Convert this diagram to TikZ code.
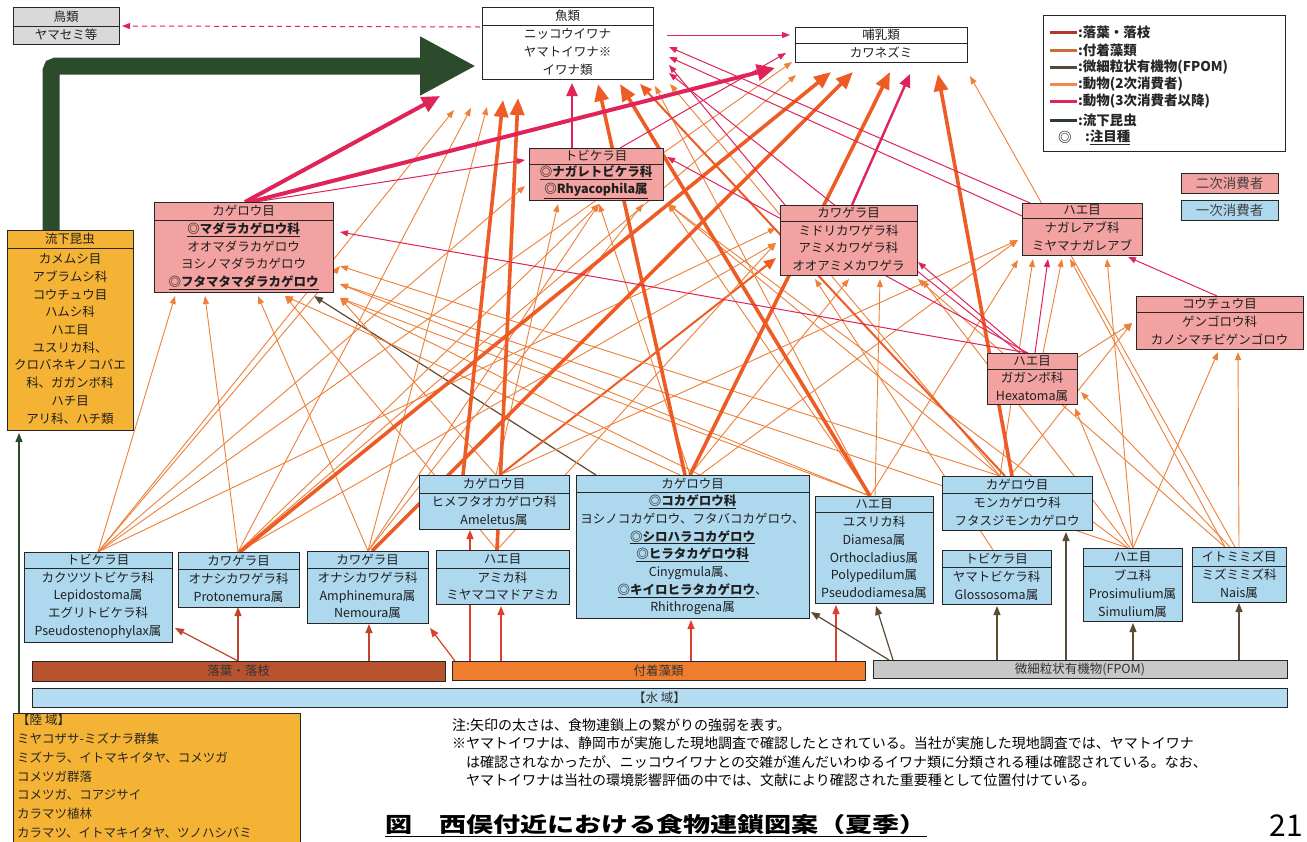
\documentclass[tikz,border=0pt]{standalone}
\usepackage{graphicx}
\usepackage{fontspec}
\setmainfont{Noto Sans CJK JP}
\usetikzlibrary{arrows.meta,calc}
\pgfdeclarelayer{back}
\pgfdeclarelayer{edges}
\pgfsetlayers{back,edges,main}
\definecolor{pinkF}{HTML}{F2A2A0}
\definecolor{blueF}{HTML}{AED8EE}
\definecolor{orgF}{HTML}{F4B334}
\definecolor{greyF}{HTML}{D9D9D9}
\definecolor{leafB}{HTML}{B8532F}
\definecolor{algB}{HTML}{EE7E2E}
\definecolor{fpomB}{HTML}{C8C8C8}
\definecolor{waterB}{HTML}{B5DCF0}
\definecolor{oC}{HTML}{EE8038}
\definecolor{OC}{HTML}{EE5C26}
\definecolor{rC}{HTML}{E0245A}
\definecolor{leafC}{HTML}{C0432E}
\definecolor{algC}{HTML}{DD3F2A}
\definecolor{fpomC}{HTML}{5C4A32}
\definecolor{grnC}{HTML}{2C4A2C}
\definecolor{lgA}{HTML}{B0362E}
\definecolor{lgB}{HTML}{CD6A3A}
\definecolor{lgC}{HTML}{5A4632}
\definecolor{lgD}{HTML}{EE8A50}
\definecolor{lgE}{HTML}{E0245A}
\definecolor{lgF}{HTML}{2E3A2E}
\newcommand\myfs{\fontsize{12.5}{17.7}\selectfont}
\newcommand\uln[1]{\underline{#1}}
\newcommand\mybox[9]{%
  \expandafter\gdef\csname ox#1\endcsname{#2}%
  \expandafter\gdef\csname oy#1\endcsname{#3}%
  \node[box,fill=#7,minimum width=#4pt,minimum height=#5pt] (#1) at (#2,#3) {};
  \draw[line width=0.7pt,draw=black!85] ([yshift=-#6pt]#1.north west) -- ([yshift=-#6pt]#1.north east);
  \node[txt] (#1-h) at ($(#1.north)+(0,#6/2)$) {#8};
  \node[txt] (#1-b) at ($(#1.south)!0.5!([yshift=-#6pt]#1.north)$) {#9};
}
\newcommand\mybar[7]{%
  \expandafter\gdef\csname ox#1\endcsname{#2}%
  \expandafter\gdef\csname oy#1\endcsname{#3}%
  \node[box,fill=#6,minimum width=#4pt,minimum height=#5pt,font=\myfs,text=black!80] (#1) at (#2,#3) {#7};
}
\newcommand\edg[7]{\draw[#1] ([shift={({#3-\csname ox#2\endcsname},{#4-\csname oy#2\endcsname})}]#2.north west) -- ([shift={({#6-\csname ox#5\endcsname},{#7-\csname oy#5\endcsname})}]#5.north west);}
\tikzset{
  box/.style={draw=black!85,line width=0.8pt,outer sep=0pt,inner sep=0pt,anchor=north west},
  txt/.style={inner sep=0pt,align=center,font=\myfs,text=black!88},
  eo/.style={draw=oC,line width=0.9pt,-{Triangle[length=8pt,width=6pt]}},
  eom/.style={draw=OC,line width=2pt,-{Triangle[length=12pt,width=10pt]}},
  eO/.style={draw=OC,line width=3.6pt,-{Triangle[length=17pt,width=14pt]}},
  er/.style={draw=rC,line width=1pt,-{Triangle[length=8pt,width=6pt]}},
  erm/.style={draw=rC,line width=2.4pt,-{Triangle[length=13pt,width=11pt]}},
  eR/.style={draw=rC,line width=4pt,-{Triangle[length=18pt,width=16pt]}},
  eleaf/.style={draw=leafC,line width=1.2pt,-{Triangle[length=9pt,width=7pt]}},
  ealg/.style={draw=algC,line width=1.2pt,-{Triangle[length=9pt,width=7pt]}},
  efpom/.style={draw=fpomC,line width=1.2pt,-{Triangle[length=9pt,width=7pt]}},
  lg/.style={line width=3pt},
  lgt/.style={anchor=west,inner sep=0pt,font=\fontsize{13.5}{14}\selectfont\bfseries,text=black!85},
}
\begin{document}
\begin{tikzpicture}[x=1pt,y=-1pt]
\useasboundingbox (0,0) rectangle (1307,841);
\begin{pgfonlayer}{back}
\fill[white] (0,0) rectangle (1307,841);
\end{pgfonlayer}

% ---------- top level
\mybox{bird}{13}{7}{106}{37}{19}{greyF}{鳥類}{ヤマセミ等}
\mybox{fish}{482}{7}{171}{72}{18}{white}{魚類}{ニッコウイワナ\\ヤマトイワナ※\\イワナ類}
\mybox{mam}{795}{27}{172}{35}{16}{white}{哺乳類}{カワネズミ}

% ---------- secondary consumers
\mybox{kp}{154}{202}{179}{90}{18}{pinkF}{カゲロウ目}{\uln{\textbf{◎マダラカゲロウ科}}\\オオマダラカゲロウ\\ヨシノマダラカゲロウ\\\uln{\textbf{◎フタマタマダラカゲロウ}}}
\mybox{tp}{529}{148}{134}{52}{16}{pinkF}{トビケラ目}{\uln{\textbf{◎ナガレトビケラ科}}\\\uln{\textbf{◎Rhyacophila属}}}
\mybox{wp}{780}{205}{137}{70}{16}{pinkF}{カワゲラ目}{ミドリカワゲラ科\\アミメカワゲラ科\\オオアミメカワゲラ}
\mybox{hp}{1022}{203}{120}{52}{15}{pinkF}{ハエ目}{ナガレアブ科\\ミヤマナガレアブ}
\mybox{cp}{1136}{296}{167}{53}{16}{pinkF}{コウチュウ目}{ゲンゴロウ科\\カノシマチビゲンゴロウ}
\mybox{gp}{987}{353}{90}{51}{16}{pinkF}{ハエ目}{ガガンボ科\\Hexatoma属}

% ---------- drifting insects / land
\mybox{ryu}{7}{230}{126}{200}{18}{orgF}{流下昆虫}{カメムシ目\\アブラムシ科\\コウチュウ目\\ハムシ科\\ハエ目\\ユスリカ科、\\クロバネキノコバエ\\科、ガガンボ科\\ハチ目\\アリ科、ハチ類}
\mybar{riku}{13}{713}{287}{132}{orgF}{}
\node[anchor=north west,inner sep=0pt,align=left,font=\fontsize{12.5}{18.8}\selectfont,text=black!85] (rikut) at (17,714) {【陸 域】\\ミヤコザサ-ミズナラ群集\\ミズナラ、イトマキイタヤ、コメツガ\\コメツガ群落\\コメツガ、コアジサイ\\カラマツ植林\\カラマツ、イトマキイタヤ、ツノハシバミ};

% ---------- primary consumers
\mybox{hime}{419}{475}{150}{54}{18}{blueF}{カゲロウ目}{ヒメフタオカゲロウ科\\Ameletus属}
\mybox{kbig}{576}{475}{233}{143}{17}{blueF}{カゲロウ目}{\uln{\textbf{◎コカゲロウ科}}\\ヨシノコカゲロウ、フタバコカゲロウ、\\\uln{\textbf{◎シロハラコカゲロウ}}\\\uln{\textbf{◎ヒラタカゲロウ科}}\\Cinygmula属、\\\uln{\textbf{◎キイロヒラタカゲロウ}}、\\Rhithrogena属}
\mybox{yus}{815}{496}{118}{107}{16}{blueF}{ハエ目}{ユスリカ科\\Diamesa属\\Orthocladius属\\Polypedilum属\\Pseudodiamesa属}
\mybox{mon}{942}{476}{150}{54}{17}{blueF}{カゲロウ目}{モンカゲロウ科\\フタスジモンカゲロウ}
\mybox{kaku}{24}{552}{148}{90}{16}{blueF}{トビケラ目}{カクツツトビケラ科\\Lepidostoma属\\エグリトビケラ科\\Pseudostenophylax属}
\mybox{prot}{178}{552}{121}{55}{17}{blueF}{カワゲラ目}{オナシカワゲラ科\\Protonemura属}
\mybox{amph}{307}{551}{121}{72}{17}{blueF}{カワゲラ目}{オナシカワゲラ科\\Amphinemura属\\Nemoura属}
\mybox{ami}{436}{550}{133}{54}{18}{blueF}{ハエ目}{アミカ科\\ミヤマコマドアミカ}
\mybox{yama}{942}{550}{109}{54}{17}{blueF}{トビケラ目}{ヤマトビケラ科\\Glossosoma属}
\mybox{buyu}{1083}{548}{99}{73}{18}{blueF}{ハエ目}{ブユ科\\Prosimulium属\\Simulium属}
\mybox{ito}{1192}{547}{94}{55}{19}{blueF}{イトミミズ目}{ミズミミズ科\\Nais属}

% ---------- resources
\mybar{leaf}{32}{661}{413}{20}{leafB}{落葉・落枝}
\mybar{alg}{452}{661}{413}{19}{algB}{付着藻類}
\mybar{fpom}{873}{660}{414}{18}{fpomB}{微細粒状有機物(FPOM)}
\mybar{water}{32}{688}{1255}{19}{waterB}{【水 域】}

% ---------- legend
\node[box,fill=white,minimum width=242pt,minimum height=136pt] (leg) at (1043,15) {};
\draw[lg,draw=lgA] ([shift={(7,17)}]leg.north west) -- ([shift={(34,17)}]leg.north west);
\node[lgt] (lt1) at ([shift={(35,17)}]leg.north west) {:落葉・落枝};
\draw[lg,draw=lgB] ([shift={(7,35)}]leg.north west) -- ([shift={(34,35)}]leg.north west);
\node[lgt] (lt2) at ([shift={(35,35)}]leg.north west) {:付着藻類};
\draw[lg,draw=lgC] ([shift={(7,52)}]leg.north west) -- ([shift={(34,52)}]leg.north west);
\node[lgt] (lt3) at ([shift={(35,52)}]leg.north west) {:微細粒状有機物(FPOM)};
\draw[lg,draw=lgD] ([shift={(7,69)}]leg.north west) -- ([shift={(34,69)}]leg.north west);
\node[lgt] (lt4) at ([shift={(35,69)}]leg.north west) {:動物(2次消費者)};
\draw[lg,draw=lgE] ([shift={(7,86)}]leg.north west) -- ([shift={(34,86)}]leg.north west);
\node[lgt] (lt5) at ([shift={(35,86)}]leg.north west) {:動物(3次消費者以降)};
\draw[lg,draw=lgF] ([shift={(7,105)}]leg.north west) -- ([shift={(34,105)}]leg.north west);
\node[lgt] (lt6) at ([shift={(35,105)}]leg.north west) {:流下昆虫};
\node[lgt] (lt7a) at ([shift={(15,122)}]leg.north west) {◎};
\node[lgt] (lt7) at ([shift={(42,122)}]leg.north west) {:\uln{注目種}};
\node[box,fill=pinkF,minimum width=97pt,minimum height=20pt,font=\fontsize{13.5}{14}\selectfont,text=black!75] (l2) at (1181,173) {二次消費者};
\node[box,fill=blueF,minimum width=97pt,minimum height=20pt,font=\fontsize{13.5}{14}\selectfont,text=black!75] (l1) at (1181,200) {一次消費者};

% ---------- notes and title
\node[anchor=north west,inner sep=0pt,align=left,font=\fontsize{14}{18.5}\selectfont,text=black] (note) at (452,718) {注:矢印の太さは、食物連鎖上の繋がりの強弱を表す。\\※ヤマトイワナは、静岡市が実施した現地調査で確認したとされている。当社が実施した現地調査では、ヤマトイワナ\\\hspace*{1em}は確認されなかったが、ニッコウイワナとの交雑が進んだいわゆるイワナ類に分類される種は確認されている。なお、\\\hspace*{1em}ヤマトイワナは当社の環境影響評価の中では、文献により確認された重要種として位置付けている。};
\node[anchor=west,inner sep=0pt] (title) at (385,826) {\scalebox{1.29}[1]{\fontsize{21}{21}\selectfont\bfseries\uln{図　西俣付近における食物連鎖図案（夏季）}}};
\node[anchor=east,inner sep=0pt,font=\fontsize{30}{30}\selectfont] (pg) at (1303,826) {21};

% ================= edges
\begin{pgfonlayer}{edges}
% big drift arrow and land arrow
\draw[draw=grnC,line width=17pt,rounded corners=5pt,-{Triangle[length=56pt,width=55pt]}] ([shift={(44,0)}]ryu.north west) |- ([shift={(-6,59)}]fish.north west);
\draw[draw=grnC,line width=1.3pt,-{Triangle[length=9pt,width=7pt]}] ([shift={(6,0)}]riku.north west) -- ([shift={(12,203)}]ryu.north west);
% resources -> primary
\edg{eleaf}{leaf}{238}{661}{kaku}{175}{628}
\edg{eleaf}{leaf}{238}{661}{prot}{238}{607}
\edg{eleaf}{leaf}{369}{661}{amph}{369}{624}
\edg{ealg}{alg}{455}{661}{amph}{430}{628}
\edg{ealg}{alg}{470}{661}{hime}{470}{530}
\edg{ealg}{alg}{501}{661}{ami}{501}{606}
\edg{ealg}{alg}{691}{661}{kbig}{691}{620}
\edg{ealg}{alg}{836}{661}{yus}{836}{605}
\edg{efpom}{fpom}{889}{660}{kbig}{811}{612}
\edg{efpom}{fpom}{893}{660}{yus}{876}{606}
\edg{efpom}{fpom}{997}{660}{yama}{997}{606}
\edg{efpom}{fpom}{1066}{660}{mon}{1066}{532}
\edg{efpom}{fpom}{1133}{660}{buyu}{1133}{623}
\edg{efpom}{fpom}{1239}{660}{ito}{1239}{603}
\edg{efpom}{kbig}{596}{475}{kp}{314}{296}
% thin orange
\edg{eo}{kaku}{98}{552}{kp}{175}{296}
\edg{eo}{kaku}{98}{552}{fish}{454}{110}
\edg{eo}{kaku}{98}{552}{tp}{525}{186}
\edg{eo}{kaku}{98}{552}{wp}{776}{228}
\edg{eo}{kaku}{98}{552}{mam}{792}{62}
\edg{eo}{kaku}{98}{552}{kp}{340}{266}
\edg{eo}{prot}{238}{552}{kp}{205}{296}
\edg{eo}{prot}{238}{552}{fish}{471}{108}
\edg{eo}{prot}{238}{552}{wp}{776}{243}
\edg{eo}{prot}{238}{552}{mam}{796}{75}
\edg{eo}{prot}{238}{552}{tp}{599}{204}
\edg{eo}{amph}{368}{551}{kp}{258}{296}
\edg{eo}{amph}{368}{551}{fish}{487}{107}
\edg{eo}{amph}{368}{551}{tp}{643}{204}
\edg{eo}{amph}{368}{551}{tp}{599}{204}
\edg{eo}{hime}{496}{475}{tp}{558}{204}
\edg{eom}{hime}{500}{475}{wp}{776}{258}
\edg{eo}{hime}{496}{475}{kp}{340}{298}
\edg{eo}{hime}{500}{475}{hp}{1018}{240}
\edg{eo}{ami}{497}{550}{kp}{285}{296}
\edg{eo}{ami}{497}{550}{wp}{776}{243}
\edg{eo}{kbig}{700}{475}{kp}{340}{298}
\edg{eo}{kbig}{680}{475}{kp}{285}{296}
\edg{eo}{kbig}{690}{475}{tp}{599}{204}
\edg{eo}{kbig}{690}{475}{wp}{849}{279}
\edg{eo}{kbig}{700}{475}{hp}{1018}{240}
\edg{eo}{yus}{870}{496}{kp}{340}{284}
\edg{eo}{yus}{870}{496}{kp}{340}{298}
\edg{eo}{yus}{870}{496}{tp}{668}{204}
\edg{eo}{yus}{875}{496}{wp}{880}{279}
\edg{eo}{yus}{870}{496}{hp}{1018}{260}
\edg{eo}{yus}{870}{496}{fish}{655}{86}
\edg{eo}{mon}{1000}{476}{kp}{340}{266}
\edg{eo}{mon}{1000}{476}{hp}{1033}{259}
\edg{eo}{mon}{1010}{476}{cp}{1132}{323}
\edg{eo}{mon}{1000}{476}{fish}{670}{84}
\edg{eo}{mon}{1000}{476}{tp}{668}{204}
\edg{eo}{buyu}{1133}{548}{gp}{1075}{408}
\edg{eo}{buyu}{1133}{548}{hp}{1107}{259}
\edg{eo}{buyu}{1130}{548}{wp}{922}{280}
\edg{eo}{buyu}{1133}{548}{cp}{1218}{352}
\edg{eo}{buyu}{1128}{548}{kp}{340}{284}
\edg{eo}{buyu}{1128}{548}{tp}{668}{204}
\edg{eo}{yama}{993}{550}{wp}{815}{279}
\edg{eo}{ito}{1239}{547}{cp}{1238}{352}
\edg{eo}{ito}{1230}{547}{gp}{1081}{392}
\edg{eo}{ito}{1235}{547}{mam}{970}{76}
\edg{eo}{ito}{1225}{547}{hp}{1070}{259}
\edg{eo}{ito}{1225}{547}{wp}{918}{279}
\edg{eo}{gp}{1077}{358}{cp}{1132}{323}
\edg{eo}{gp}{1043}{353}{hp}{1062}{259}
% thick orange
\edg{eO}{hime}{463}{475}{fish}{503}{100}
\edg{eO}{ami}{497}{550}{fish}{518}{98}
\edg{eO}{prot}{240}{552}{mam}{831}{72}
\edg{eO}{amph}{372}{551}{mam}{853}{72}
\edg{eO}{kbig}{690}{475}{mam}{890}{72}
\edg{eO}{mon}{1012}{476}{mam}{938}{74}
\edg{eO}{kbig}{685}{475}{fish}{598}{84}
\edg{eO}{yus}{870}{496}{fish}{620}{84}
\edg{eom}{mon}{1005}{476}{fish}{640}{84}
% crimson
\edg{eR}{kp}{245}{202}{fish}{440}{96}
\edg{eR}{kp}{250}{202}{mam}{775}{68}
\edg{er}{kp}{255}{202}{tp}{525}{160}
\edg{erm}{tp}{572}{148}{fish}{572}{83}
\edg{er}{tp}{620}{148}{mam}{786}{53}
\edg{erm}{wp}{852}{205}{mam}{910}{74}
\edg{er}{wp}{785}{205}{fish}{669}{65}
\edg{er}{hp}{1030}{203}{fish}{669}{47}
\edg{er}{hp}{1022}{216}{fish}{669}{57}
\edg{er}{gp}{1020}{353}{fish}{669}{73}
\edg{er}{gp}{1028}{353}{kp}{340}{232}
\edg{er}{gp}{1028}{353}{tp}{667}{157}
\edg{er}{gp}{1025}{353}{wp}{918}{262}
\edg{er}{gp}{1035}{353}{hp}{1048}{259}
\edg{er}{cp}{1217}{296}{hp}{1128}{257}
\edg{er}{fish}{667}{35}{mam}{790}{35}
\edg{er,dash pattern=on 5pt off 4pt}{fish}{480}{27}{bird}{122}{26}
\end{pgfonlayer}
\end{tikzpicture}
\end{document}
